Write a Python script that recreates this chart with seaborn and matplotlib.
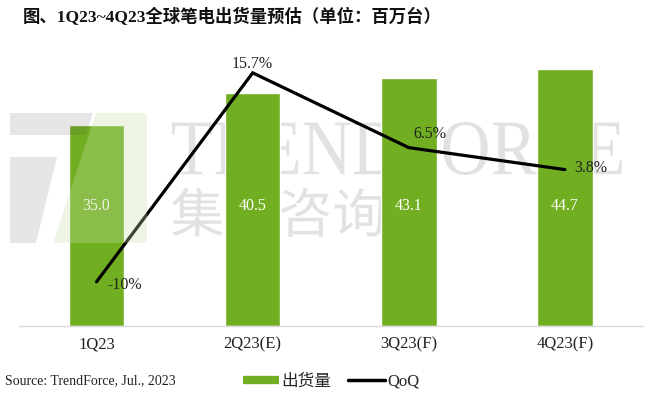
import numpy as np
import pandas as pd
import matplotlib
matplotlib.use("Agg")
import matplotlib.pyplot as plt
import seaborn as sns
from matplotlib.lines import Line2D
from matplotlib.textpath import TextPath
from matplotlib.patches import PathPatch, Polygon
from matplotlib.font_manager import FontProperties
from matplotlib.transforms import Affine2D

# ---- data ----
categories = ["1Q23", "2Q23(E)", "3Q23(F)", "4Q23(F)"]
shipments = [35.0, 40.5, 43.1, 44.7]          # 百万台
qoq = [-0.10, 0.157, 0.065, 0.038]
qoq_labels = ["-10%", "15.7%", "6.5%", "3.8%"]
bar_labels = ["35.0", "40.5", "43.1", "44.7"]

GREEN = "#72AE22"
SERIF = ["Liberation Serif", "Noto Sans CJK SC"]

sns.set_theme(style="white")
plt.rcParams["font.family"] = SERIF

W, H = 650, 396
fig = plt.figure(figsize=(W / 100, H / 100), dpi=100)
ax = fig.add_axes([18.5 / W, (H - 325.7) / H, (643 - 18.5) / W, (325.7 - 38.7) / H])
ax.set_facecolor("none")

df = pd.DataFrame({"cat": categories, "val": shipments, "qoq": qoq})
sns.barplot(data=df, x="cat", y="val", color=GREEN, width=0.355, saturation=1,
            ax=ax, zorder=2)
ax.set_ylim(0, 50)
ax.set_xlim(-0.5, len(categories) - 0.5)
for s in ["top", "right", "left"]:
    ax.spines[s].set_visible(False)
ax.spines["bottom"].set_color("#d9d9d9")
ax.spines["bottom"].set_linewidth(1.0)
ax.set_yticks([])
ax.set_xlabel("")
ax.set_ylabel("")
ax.tick_params(axis="x", length=0, pad=8, labelsize=12, labelcolor="#222222")

for i, lab in enumerate(bar_labels):
    ax.text(i, 20.9, lab, ha="center", va="center", color="white", fontsize=11.5,
            zorder=4)

ax2 = ax.twinx()
ax2.set_facecolor("none")
sns.lineplot(x=np.arange(len(categories)), y=df["qoq"], color="black", lw=2.3,
             ax=ax2, zorder=5, solid_capstyle="round", solid_joinstyle="miter")
ax2.set_ylim(-0.154, 0.199)
ax2.set_yticks([])
ax2.set_ylabel("")
for s in ax2.spines.values():
    s.set_visible(False)

offsets = [(8, -2.5, "left"), (0, 6.5, "center"), (3, 9.5, "left"), (7, 1.5, "left")]
for i, (lab, (dx, dy, ha)) in enumerate(zip(qoq_labels, offsets)):
    ax2.annotate(lab, (i, qoq[i]), xytext=(dx, dy), textcoords="offset points",
                 ha=ha, va="center", fontsize=11.5, color="#222222", zorder=6)

# ---- watermark ----
def px_tr(x0, ytop, w, h, path):
    bb = path.get_extents()
    return (Affine2D().translate(-bb.x0, -bb.y0)
            .scale(w / bb.width, h / bb.height)
            .translate(x0, H - ytop - h).scale(1 / 100)
            + fig.dpi_scale_trans)

tp1 = TextPath((0, 0), "TRENDFORCE", size=100,
               prop=FontProperties(family="Liberation Serif"))
fig.add_artist(PathPatch(tp1, transform=px_tr(172, 122, 450, 53, tp1),
                         facecolor="#e2e2e2", edgecolor="none", zorder=-1))
tp2 = TextPath((0, 0), "集邦咨询", size=100,
               prop=FontProperties(family="Noto Sans CJK SC", weight="light"))
fig.add_artist(PathPatch(tp2, transform=px_tr(172, 188, 211, 49, tp2),
                         facecolor="#e2e2e2", edgecolor="none", zorder=-1))

def poly(pts, **kw):
    arr = np.array([(x / 100, (H - y) / 100) for x, y in pts])
    fig.add_artist(Polygon(arr, closed=True, transform=fig.dpi_scale_trans,
                           edgecolor="none", **kw))

poly([(10, 113), (93, 113), (86, 135), (10, 135)], facecolor="#3a3040", alpha=0.12, zorder=3)
poly([(10, 157), (57, 157), (36, 243), (10, 243)], facecolor="#3a3040", alpha=0.12, zorder=3)
poly([(96, 113), (147, 113), (147, 243), (53, 243)], facecolor="#c8e0aa", alpha=0.3, zorder=3)

# ---- title, source, legend ----
fig.text(23 / W, 1 - 17 / H, "图、1Q23~4Q23全球笔电出货量预估（单位：百万台）",
         ha="left", va="center", fontsize=12.5, fontweight="bold", color="#111111")
fig.text(5 / W, 1 - 381 / H, "Source: TrendForce, Jul., 2023", ha="left",
         va="center", fontsize=10, color="#222222")

handles = [Line2D([], [], color=GREEN, lw=6, solid_capstyle="butt"),
           Line2D([], [], color="black", lw=2.5)]
fig.legend(handles, ["出货量", "QoQ"], loc="center", ncol=2, frameon=False,
           bbox_to_anchor=(331 / W, 1 - 382 / H), fontsize=12, handlelength=2.2,
           handletextpad=0.15, columnspacing=1.0, borderpad=0)

fig.savefig("out.png", dpi=100)
